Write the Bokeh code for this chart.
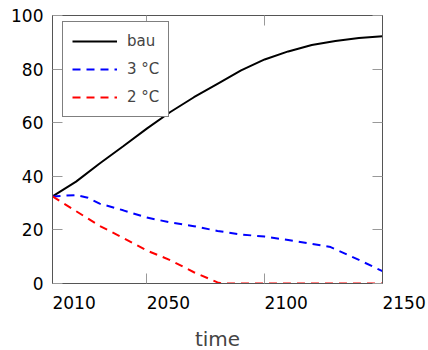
from bokeh.plotting import figure
from bokeh.models import (LinearAxis, FixedTicker, Range1d, Legend, LegendItem,
                          CustomJSTickFormatter)
from bokeh.embed import file_html
from bokeh.resources import INLINE

years = [2010, 2020, 2030, 2040, 2050, 2060, 2070, 2080, 2090, 2100, 2110, 2120, 2130, 2140, 2150]
bau = [32.5, 38, 44.8, 51.2, 57.8, 64, 69.5, 74.5, 79.5, 83.6, 86.6, 89, 90.5, 91.6, 92.3]
years_3c = [2010, 2020, 2025, 2030, 2040, 2050, 2060, 2070, 2080, 2090, 2100, 2110, 2120, 2128, 2140, 2150]
c3 = [32.5, 33, 32, 29.8, 27.3, 24.6, 22.8, 21.4, 19.6, 18.3, 17.5, 16.2, 14.8, 13.6, 8.8, 4.6]
years_2c = [2010, 2020, 2030, 2040, 2050, 2060, 2070, 2080, 2082, 2090, 2100, 2110, 2120, 2130, 2140, 2150]
c2 = [32.5, 27, 21.5, 17, 12.3, 8.7, 4.2, 0.4, 0, 0, 0, 0, 0, 0, 0, 0]
x_ticks = [2010, 2050, 2100, 2150]
x_tick_labels = ["2010", "2050", "2100", "2150"]
y_ticks = [0, 20, 40, 60, 80, 100]

FONT = "DejaVu Sans"

p = figure(frame_width=330, frame_height=268, output_backend="svg", toolbar_location=None,
           x_range=Range1d(2010, 2150), y_range=Range1d(0, 100),
           min_border_left=52, min_border_top=15, min_border_right=44, min_border_bottom=66)
p.xgrid.visible = False
p.ygrid.visible = False
p.outline_line_color = "black"
p.outline_line_width = 1
p.background_fill_color = "white"
p.border_fill_color = "white"

r1 = p.line(years, bau, line_color="black", line_width=2)
r2 = p.line(years_3c, c3, line_color="blue", line_width=2, line_dash="8 6")
r3 = p.line(years_2c, c2, line_color="red", line_width=2, line_dash="8 6")

blank = CustomJSTickFormatter(code="return '';")

def style(ax, labels=True):
    ax.major_tick_in = 10
    ax.major_tick_out = 0
    ax.minor_tick_in = 0
    ax.minor_tick_out = 0
    ax.major_tick_line_color = "#999999"
    ax.axis_line_color = "#555555"
    ax.major_label_text_font = FONT
    ax.major_label_text_font_size = "17px"
    ax.major_label_text_color = "black"
    if not labels:
        ax.formatter = blank

xa = p.xaxis[0]
xa.ticker = FixedTicker(ticks=x_ticks)
style(xa)
# non-breaking spaces push the centred labels so that they start at their ticks
pad = "\u00a0" * 8
xa.major_label_overrides = {t: pad + s for t, s in zip(x_ticks, x_tick_labels)}
xa.major_label_standoff = 9
xa.axis_label = "time"
xa.axis_label_text_font = FONT
xa.axis_label_text_font_size = "20px"
xa.axis_label_text_font_style = "normal"
xa.axis_label_standoff = 11

ya = p.yaxis[0]
ya.ticker = FixedTicker(ticks=y_ticks)
style(ya)
ya.major_label_standoff = 9

top = LinearAxis(ticker=FixedTicker(ticks=x_ticks))
style(top, labels=False)
p.add_layout(top, "above")
right = LinearAxis(ticker=FixedTicker(ticks=y_ticks))
style(right, labels=False)
p.add_layout(right, "right")

legend = Legend(items=[LegendItem(label="bau", renderers=[r1]),
                       LegendItem(label="3 °C", renderers=[r2]),
                       LegendItem(label="2 °C", renderers=[r3])],
                location=(10, 166))
legend.border_line_color = "black"
legend.border_line_width = 1
legend.background_fill_alpha = 1
legend.label_text_font = FONT
legend.label_text_font_size = "15px"
legend.glyph_width = 45
legend.glyph_height = 20
legend.label_height = 20
legend.label_standoff = 10
legend.spacing = 8
legend.padding = 9
legend.margin = 0
p.add_layout(legend, "center")

open("out.html", "w").write(file_html(p, INLINE))
